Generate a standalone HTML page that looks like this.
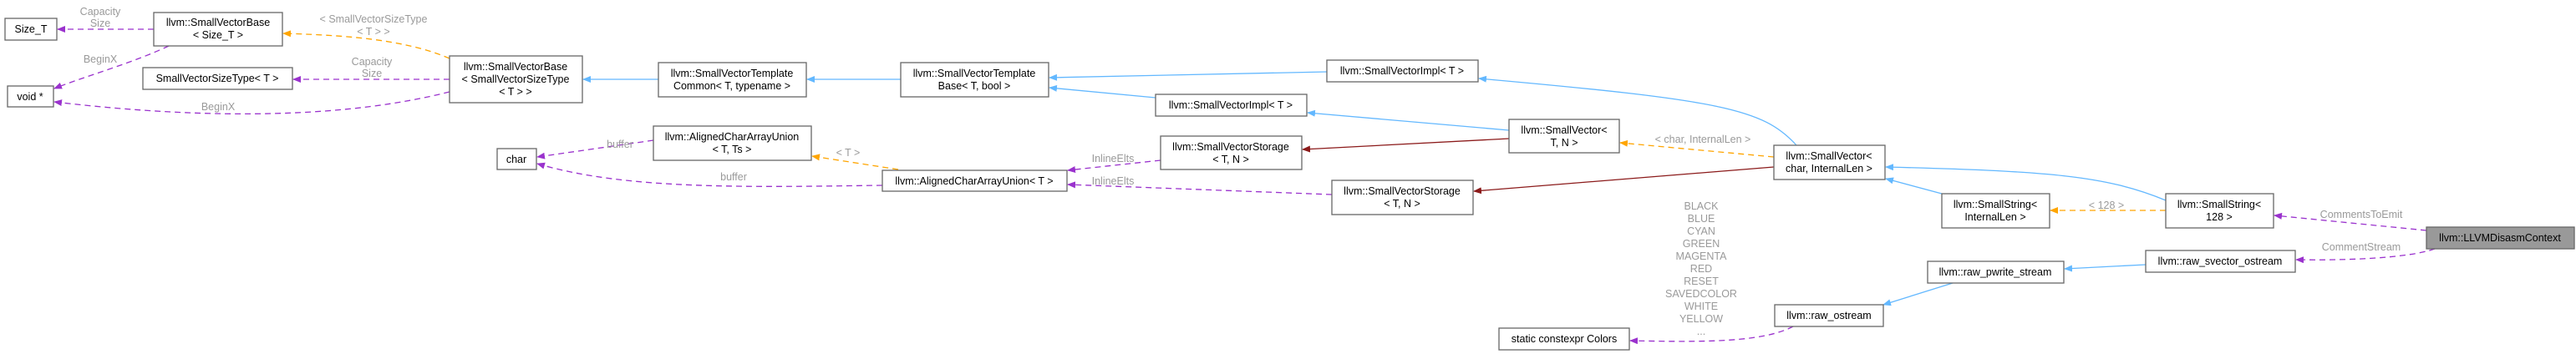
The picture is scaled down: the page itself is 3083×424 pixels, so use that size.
<!DOCTYPE html>
<html><head><meta charset="utf-8"><style>
html,body{margin:0;padding:0;background:#fff;}
svg{display:block;}
text{font-family:"Liberation Sans",Arial,sans-serif;font-size:12.5px;}
.n{fill:#000;text-anchor:middle;}
.l{fill:#9a9a9a;text-anchor:middle;}
rect{fill:#fff;stroke:#666;stroke-width:1.3;}
.b{stroke:#63b8ff;fill:none;stroke-width:1.3;}
.o{stroke:#ffa500;fill:none;stroke-width:1.3;stroke-dasharray:7,5;}
.p{stroke:#9a32cd;fill:none;stroke-width:1.3;stroke-dasharray:7,5;}
.r{stroke:#8b1a1a;fill:none;stroke-width:1.3;}
</style></head><body>
<svg width="3083" height="424" viewBox="0 0 3083 424" xmlns="http://www.w3.org/2000/svg">
<defs>
<marker id="mb" markerWidth="10" markerHeight="8" refX="9" refY="4" orient="auto" markerUnits="userSpaceOnUse"><path d="M0,0 L10,4 L0,8 z" fill="#63b8ff"/></marker>
<marker id="mo" markerWidth="10" markerHeight="8" refX="9" refY="4" orient="auto" markerUnits="userSpaceOnUse"><path d="M0,0 L10,4 L0,8 z" fill="#ffa500"/></marker>
<marker id="mp" markerWidth="10" markerHeight="8" refX="9" refY="4" orient="auto" markerUnits="userSpaceOnUse"><path d="M0,0 L10,4 L0,8 z" fill="#9a32cd"/></marker>
<marker id="mr" markerWidth="10" markerHeight="8" refX="9" refY="4" orient="auto" markerUnits="userSpaceOnUse"><path d="M0,0 L10,4 L0,8 z" fill="#8b1a1a"/></marker>
</defs>

<!-- edges -->
<path class="p" d="M184,35 L69,35" marker-end="url(#mp)"/>
<path class="p" d="M202,55 C160,75 100,92 65,106" marker-end="url(#mp)"/>
<path class="o" d="M538,70 C480,45 400,42 339,40" marker-end="url(#mo)"/>
<path class="p" d="M538,95 L351,95" marker-end="url(#mp)"/>
<path class="p" d="M538,110 C420,140 260,145 65,122" marker-end="url(#mp)"/>
<path class="b" d="M788,95 L698,95" marker-end="url(#mb)"/>
<path class="b" d="M1078,95 L966,95" marker-end="url(#mb)"/>
<path class="b" d="M1588,86 L1256,93" marker-end="url(#mb)"/>
<path class="b" d="M1383,117 L1256,105" marker-end="url(#mb)"/>
<path class="b" d="M1806,156 L1565,135" marker-end="url(#mb)"/>
<path class="b" d="M2150,174 C2110,130 2060,120 1770,94" marker-end="url(#mb)"/>
<path class="r" d="M1806,166 L1559,179" marker-end="url(#mr)"/>
<path class="o" d="M2123,188 L1939,171" marker-end="url(#mo)"/>
<path class="r" d="M2123,200 L1764,229" marker-end="url(#mr)"/>
<path class="p" d="M1389,192 L1278,204" marker-end="url(#mp)"/>
<path class="p" d="M1594,233 L1278,221" marker-end="url(#mp)"/>
<path class="o" d="M1075,203 L972,187" marker-end="url(#mo)"/>
<path class="p" d="M782,168 L643,188" marker-end="url(#mp)"/>
<path class="p" d="M1056,222 C900,224 750,228 643,196" marker-end="url(#mp)"/>
<path class="b" d="M2324,232 L2257,214" marker-end="url(#mb)"/>
<path class="b" d="M2592,240 C2520,210 2450,205 2257,200" marker-end="url(#mb)"/>
<path class="o" d="M2592,252 L2454,252" marker-end="url(#mo)"/>
<path class="p" d="M2904,276 L2722,258" marker-end="url(#mp)"/>
<path class="p" d="M2914,298 C2880,310 2800,312 2748,311" marker-end="url(#mp)"/>
<path class="b" d="M2568,317 L2471,322" marker-end="url(#mb)"/>
<path class="b" d="M2337,339 L2254,365" marker-end="url(#mb)"/>
<path class="p" d="M2146,391 C2110,410 2040,410 1951,408" marker-end="url(#mp)"/>

<!-- edge labels -->
<text class="l" x="120" y="18">Capacity</text><text class="l" x="120" y="32">Size</text>
<text class="l" x="120" y="75">BeginX</text>
<text class="l" x="447" y="27">&lt; SmallVectorSizeType</text><text class="l" x="447" y="42">&lt; T &gt; &gt;</text>
<text class="l" x="445" y="78">Capacity</text><text class="l" x="445" y="92">Size</text>
<text class="l" x="261" y="132">BeginX</text>
<text class="l" x="742" y="177">buffer</text>
<text class="l" x="878" y="216">buffer</text>
<text class="l" x="1015" y="187">&lt; T &gt;</text>
<text class="l" x="1332" y="194">InlineElts</text>
<text class="l" x="1332" y="221">InlineElts</text>
<text class="l" x="2038" y="171">&lt; char, InternalLen &gt;</text>
<text class="l" x="2521" y="250">&lt; 128 &gt;</text>
<text class="l" x="2826" y="261">CommentsToEmit</text>
<text class="l" x="2826" y="300">CommentStream</text>
<text class="l" x="2036" y="251">BLACK</text>
<text class="l" x="2036" y="266">BLUE</text>
<text class="l" x="2036" y="281">CYAN</text>
<text class="l" x="2036" y="296">GREEN</text>
<text class="l" x="2036" y="311">MAGENTA</text>
<text class="l" x="2036" y="326">RED</text>
<text class="l" x="2036" y="341">RESET</text>
<text class="l" x="2036" y="356">SAVEDCOLOR</text>
<text class="l" x="2036" y="371">WHITE</text>
<text class="l" x="2036" y="386">YELLOW</text>
<text class="l" x="2036" y="401">...</text>

<!-- nodes -->
<rect x="6" y="22" width="62" height="26"/><text class="n" x="37" y="39">Size_T</text>
<rect x="184" y="15" width="154" height="40"/><text class="n" x="261" y="31">llvm::SmallVectorBase</text><text class="n" x="261" y="46">&lt; Size_T &gt;</text>
<rect x="9" y="103" width="55" height="25"/><text class="n" x="36" y="120">void *</text>
<rect x="171" y="81" width="179" height="26"/><text class="n" x="260" y="98">SmallVectorSizeType&lt; T &gt;</text>
<rect x="538" y="67" width="159" height="56"/><text class="n" x="617" y="84">llvm::SmallVectorBase</text><text class="n" x="617" y="99">&lt; SmallVectorSizeType</text><text class="n" x="617" y="114">&lt; T &gt; &gt;</text>
<rect x="788" y="75" width="177" height="41"/><text class="n" x="876" y="92">llvm::SmallVectorTemplate</text><text class="n" x="876" y="107">Common&lt; T, typename &gt;</text>
<rect x="1078" y="75" width="177" height="41"/><text class="n" x="1166" y="92">llvm::SmallVectorTemplate</text><text class="n" x="1166" y="107">Base&lt; T, bool &gt;</text>
<rect x="1588" y="72" width="181" height="26"/><text class="n" x="1678" y="89">llvm::SmallVectorImpl&lt; T &gt;</text>
<rect x="1383" y="113" width="181" height="26"/><text class="n" x="1473" y="130">llvm::SmallVectorImpl&lt; T &gt;</text>
<rect x="595" y="178" width="47" height="25"/><text class="n" x="618" y="195">char</text>
<rect x="782" y="151" width="189" height="41"/><text class="n" x="876" y="168">llvm::AlignedCharArrayUnion</text><text class="n" x="876" y="183">&lt; T, Ts &gt;</text>
<rect x="1389" y="163" width="169" height="40"/><text class="n" x="1473" y="180">llvm::SmallVectorStorage</text><text class="n" x="1473" y="195">&lt; T, N &gt;</text>
<rect x="1806" y="143" width="132" height="40"/><text class="n" x="1872" y="160">llvm::SmallVector&lt;</text><text class="n" x="1872" y="175">T, N &gt;</text>
<rect x="1056" y="204" width="221" height="25"/><text class="n" x="1166" y="221">llvm::AlignedCharArrayUnion&lt; T &gt;</text>
<rect x="1594" y="216" width="169" height="41"/><text class="n" x="1678" y="233">llvm::SmallVectorStorage</text><text class="n" x="1678" y="248">&lt; T, N &gt;</text>
<rect x="2123" y="174" width="133" height="41"/><text class="n" x="2189" y="191">llvm::SmallVector&lt;</text><text class="n" x="2189" y="206">char, InternalLen &gt;</text>
<rect x="2324" y="232" width="129" height="41"/><text class="n" x="2388" y="249">llvm::SmallString&lt;</text><text class="n" x="2388" y="264">InternalLen &gt;</text>
<rect x="2592" y="232" width="129" height="41"/><text class="n" x="2656" y="249">llvm::SmallString&lt;</text><text class="n" x="2656" y="264">128 &gt;</text>
<rect x="2904" y="272" width="177" height="26" style="fill:#999"/><text class="n" x="2992" y="289">llvm::LLVMDisasmContext</text>
<rect x="2568" y="300" width="179" height="26"/><text class="n" x="2657" y="317">llvm::raw_svector_ostream</text>
<rect x="2307" y="313" width="163" height="26"/><text class="n" x="2388" y="330">llvm::raw_pwrite_stream</text>
<rect x="2124" y="365" width="130" height="26"/><text class="n" x="2189" y="382">llvm::raw_ostream</text>
<rect x="1794" y="393" width="156" height="26"/><text class="n" x="1872" y="410">static constexpr Colors</text>
</svg>
</body></html>
